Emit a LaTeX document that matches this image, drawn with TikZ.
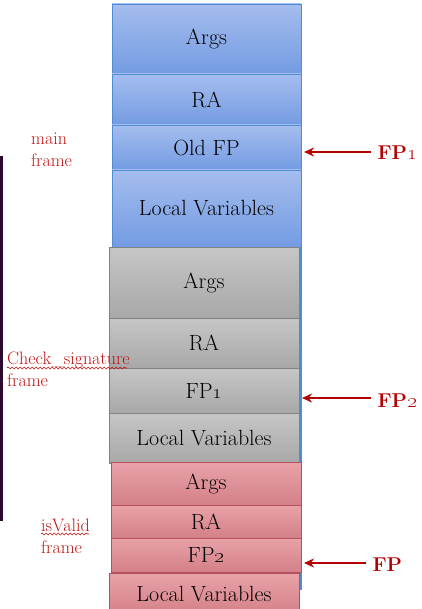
\documentclass[tikz,border=0pt]{standalone}
\usetikzlibrary{arrows.meta,decorations.pathmorphing}
\definecolor{bluetop}{RGB}{165,189,238}
\definecolor{bluebot}{RGB}{115,155,226}
\definecolor{bluebd}{RGB}{80,140,210}
\definecolor{graytop}{RGB}{198,198,198}
\definecolor{graybot}{RGB}{168,168,168}
\definecolor{graybd}{RGB}{130,130,130}
\definecolor{pinktop}{RGB}{232,162,168}
\definecolor{pinkbot}{RGB}{212,128,136}
\definecolor{pinkbd}{RGB}{180,80,95}
\definecolor{fpred}{RGB}{180,0,0}
\definecolor{lblred}{RGB}{190,20,20}
\definecolor{darkbar}{RGB}{45,10,45}
\begin{document}
\begin{tikzpicture}[x=1pt,y=-1pt,
  cell/.style={anchor=north west, inner sep=0pt, outer sep=0pt, minimum width=190pt,
    font=\fontsize{22}{24}\selectfont, text=black, line width=0.8pt},
  bluecell/.style={cell, minimum width=189pt, draw=bluebd, top color=bluetop, bottom color=bluebot},
  graycell/.style={cell, draw=graybd, top color=graytop, bottom color=graybot},
  pinkcell/.style={cell, draw=pinkbd, top color=pinktop, bottom color=pinkbot},
  fplabel/.style={anchor=west, text=fpred, font=\fontsize{20}{22}\selectfont\bfseries},
  fparrow/.style={draw=fpred, line width=2.4pt, -{Stealth[length=10pt,width=9pt]}, shorten >=3pt, shorten <=3pt},
  framelabel/.style={anchor=north west, align=left, text=lblred, inner sep=0pt,
    font=\fontsize{18}{22}\selectfont},
  wavy/.style={draw=lblred, line width=0.6pt, decorate, decoration={snake, amplitude=1pt, segment length=4pt}}
]
\useasboundingbox (0,0) rectangle (421,609);
\fill[darkbar] (0,156) rectangle (3,521);
\draw[bluebd, line width=1.4pt] (301,247) -- (301,590);
% main frame
\node[bluecell, minimum height=70pt] (mArgs) at (112,4) {Args};
\node[bluecell, minimum height=51pt] (mRA) at (112,74) {RA};
\node[bluecell, minimum height=45pt] (mOld) at (112,125) {Old FP};
\node[bluecell, minimum height=77pt] (mLV) at (112,170) {Local Variables};
% check signature frame
\node[graycell, minimum height=71pt] (gArgs) at (109,247) {Args};
\node[graycell, minimum height=50pt] (gRA) at (109,318) {RA};
\node[graycell, minimum height=45pt] (gFP) at (109,368) {FP\oldstylenums{1}};
\node[graycell, minimum height=50pt] (gLV) at (109,413) {Local Variables};
% isValid frame
\node[pinkcell, minimum height=43pt] (pArgs) at (111,462) {Args};
\node[pinkcell, minimum height=33pt] (pRA) at (111,505) {RA};
\node[pinkcell, minimum height=34pt] (pFP) at (111,538) {FP\oldstylenums{2}};
\node[pinkcell, minimum height=42pt] (pLV) at (109,573) {Local Variables};
% frame labels
\node[framelabel] (lmain) at (31,133) {main\\frame};
\node[framelabel] (lcheck) at (7,351.5) {Check\_signature\\frame};
\node[framelabel] (lvalid) at (41,518.5) {isValid\\frame};
\draw[wavy] (7,368) -- (127,368);
\draw[wavy] (41,534) -- (89,534);
% FP pointers
\node[fplabel] (fp1) at (374,153) {FP\oldstylenums{1}};
\node[fplabel] (fp2) at (374,401) {FP\oldstylenums{2}};
\node[fplabel] (fp) at (369,565) {FP};
\draw[fparrow] ([yshift=1pt]fp1.west) -- ([yshift=1pt]fp1.west -| mOld.east);
\draw[fparrow] ([yshift=3pt]fp2.west) -- ([yshift=3pt]fp2.west -| gFP.east);
\draw[fparrow] ([yshift=2pt]fp.west) -- ([yshift=2pt]fp.west -| pFP.east);
\end{tikzpicture}
\end{document}
